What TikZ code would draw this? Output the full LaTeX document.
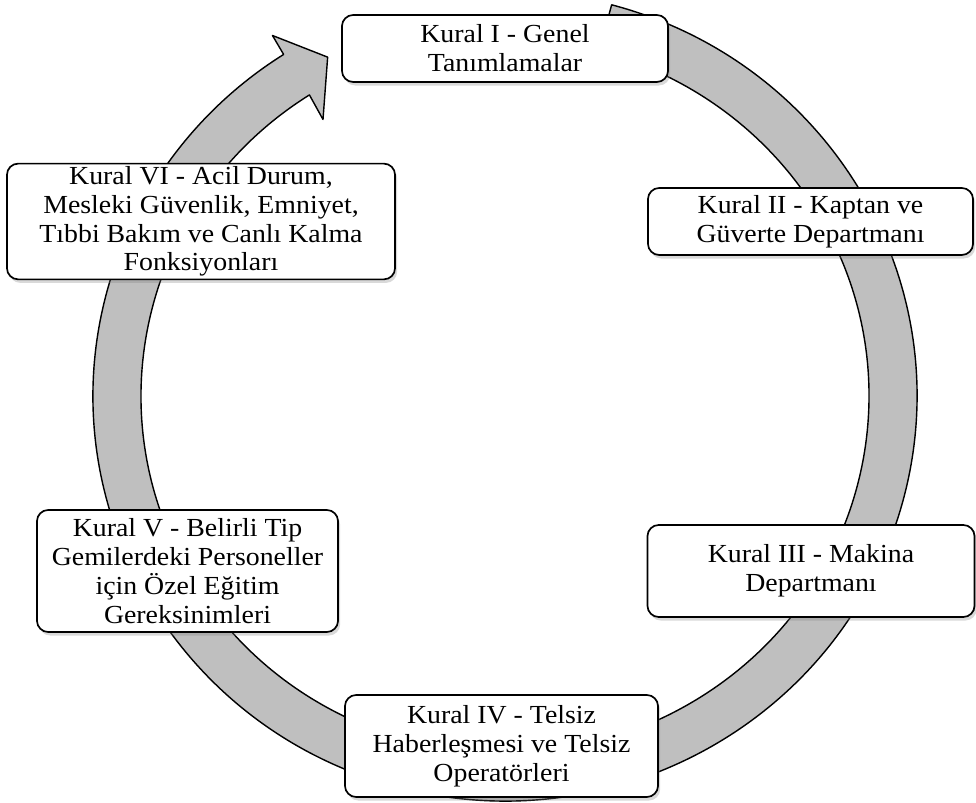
\documentclass[tikz,border=0pt]{standalone}
\usepackage{fontspec}
\setmainfont{Liberation Serif}[FakeStretch=1.07]
\usetikzlibrary{shadows}
\definecolor{ringgray}{RGB}{191,191,191}
\begin{document}
\begin{tikzpicture}[x=0.025cm,y=0.025cm,
	ring/.style={fill=ringgray,draw=black,line width=1pt,line join=round},
	kural/.style={draw=black,fill=white,line width=1.2pt,rounded corners=8pt,align=center,inner sep=2pt,
		font=\fontsize{18.5}{20.5}\selectfont,
		drop shadow={opacity=0.3,shadow xshift=1.5pt,shadow yshift=-2.5pt}}]
	\useasboundingbox (0,0) rectangle (976,803);
	% circular arrow behind the boxes
	\begin{scope}[shift={(505,407)}]
	\draw[ring] (75:412 and 405) arc[start angle=75,end angle=-237.5,x radius=412,y radius=405]
		-- (-237.6:434 and 427) -- (-242.8:388 and 381) -- (-237.2:336 and 329) -- (-237.5:364 and 357)
		arc[start angle=-237.5,end angle=75,x radius=364,y radius=357] -- cycle;
	\end{scope}
	\node[kural,minimum width=8.15cm,minimum height=1.675cm] (k1) at (505,754.5) {Kural I - Genel\\Tanımlamalar};
	\node[kural,minimum width=8.125cm,minimum height=1.675cm] (k2) at (810.5,581.5) {Kural II - Kaptan ve\\Güverte Departmanı};
	\node[kural,minimum width=8.175cm,minimum height=2.3cm] (k3) at (811,232) {Kural III - Makina\\Departmanı};
	\node[kural,minimum width=7.825cm,minimum height=2.55cm] (k4) at (501.5,57) {Kural IV - Telsiz\\Haberleşmesi ve Telsiz\\Operatörleri};
	\node[kural,minimum width=7.525cm,minimum height=3.05cm] (k5) at (187.5,232) {Kural V - Belirli Tip\\Gemilerdeki Personeller\\için Özel Eğitim\\Gereksinimleri};
	\node[kural,minimum width=9.7cm,minimum height=2.825cm] (k6) at (201,581.5) {Kural VI - Acil Durum,\\Mesleki Güvenlik, Emniyet,\\Tıbbi Bakım ve Canlı Kalma\\Fonksiyonları};
\end{tikzpicture}
\end{document}
